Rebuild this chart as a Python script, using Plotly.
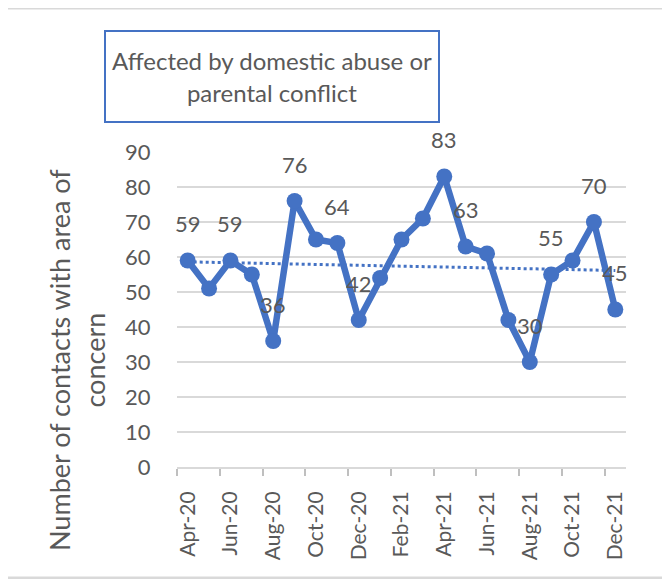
import numpy as np
import plotly.graph_objects as go

months = ["Apr-20", "May-20", "Jun-20", "Jul-20", "Aug-20", "Sep-20", "Oct-20", "Nov-20",
          "Dec-20", "Jan-21", "Feb-21", "Mar-21", "Apr-21", "May-21", "Jun-21", "Jul-21",
          "Aug-21", "Sep-21", "Oct-21", "Nov-21", "Dec-21"]
contacts = [59, 51, 59, 55, 36, 76, 65, 64, 42, 54, 65, 71, 83, 63, 61, 42, 30, 55, 59, 70, 45]
shown_labels = [59, None, 59, None, 36, 76, None, 64, 42, None, None, None, 83, 63, None,
                None, 30, 55, None, 70, 45]
y_ticks = [0, 10, 20, 30, 40, 50, 60, 70, 80, 90]

title_text = "Affected by domestic abuse or<br>parental conflict"
y_title = "Number of contacts with area of<br>concern"

BLUE = "#4472C4"
GREY_TEXT = "#595959"
FONT = "Lato, 'Liberation Sans', sans-serif"

# page body has an 8px margin, so the figure is drawn 8px right/down
OFF = 8
PL, PR, PT, PB = 177, 626, 152, 467  # plot area in screen pixels


def px_x(p):
    return (p - PL) / (PR - PL)


def px_y(p):
    return (PB - p) / (PB - PT)


x = np.arange(len(months))
slope, intercept = np.polyfit(x, np.array(contacts, dtype=float), 1)
trend = slope * x + intercept

fig = go.Figure()
fig.add_trace(go.Scatter(x=x, y=trend, mode="lines",
                         line=dict(color=BLUE, width=3, dash="dot"),
                         hoverinfo="skip", showlegend=False))
fig.add_trace(go.Scatter(x=x, y=contacts, mode="lines+markers",
                         line=dict(color=BLUE, width=6.5),
                         marker=dict(color=BLUE, size=16),
                         showlegend=False))
fig.add_trace(go.Scatter(x=x, y=contacts, xaxis="x2", mode="markers",
                         marker=dict(opacity=0), hoverinfo="skip", showlegend=False))

for i, lab in enumerate(shown_labels):
    if lab is None:
        continue
    fig.add_annotation(x=x[i], y=contacts[i], text=str(lab), showarrow=False,
                       yshift=37, font=dict(size=22, color=GREY_TEXT, family=FONT))

tick_bounds = [v - 0.5 for v in range(0, len(months) + 1, 2)]
label_pos = list(range(0, len(months), 2))

W, H = 670 - OFF, 579 - OFF
fig.update_layout(
    width=W, height=H,
    margin=dict(l=PL - OFF, r=W - (PR - OFF), t=PT - OFF, b=H - (PB - OFF)),
    paper_bgcolor="white", plot_bgcolor="white",
    font=dict(family=FONT, color=GREY_TEXT),
    xaxis=dict(range=[-0.5, len(months) - 0.5], tickvals=tick_bounds,
               showticklabels=False, ticks="outside", ticklen=7,
               tickcolor="#BFBFBF", tickwidth=1.5,
               showline=True, linecolor="#D9D9D9", linewidth=2,
               showgrid=False, zeroline=False, fixedrange=True),
    xaxis2=dict(range=[-0.5, len(months) - 0.5], overlaying="x", anchor="y", side="bottom",
                tickvals=label_pos, ticktext=[months[i] for i in label_pos],
                tickangle=-90, ticks="outside", ticklen=15, tickcolor="rgba(0,0,0,0)",
                tickfont=dict(size=21, color=GREY_TEXT, family=FONT),
                showline=False, showgrid=False, zeroline=False),
    yaxis=dict(range=[0, 90], tickvals=y_ticks, showgrid=True, gridcolor="#D9D9D9",
               gridwidth=2, zeroline=False, showline=False,
               ticks="outside", ticklen=21, tickcolor="rgba(0,0,0,0)",
               tickfont=dict(size=22, color=GREY_TEXT, family=FONT)),
    annotations=list(fig.layout.annotations) + [
        dict(xref="paper", yref="paper", x=px_x(272), y=px_y(77),
             xanchor="center", yanchor="middle", text=title_text, showarrow=False,
             font=dict(size=24, color=GREY_TEXT, family=FONT),
             bordercolor=BLUE, borderwidth=2, borderpad=2, width=328, height=85,
             bgcolor="white"),
        dict(xref="paper", yref="paper", x=px_x(77), y=px_y(360),
             xanchor="center", yanchor="middle", text=y_title, showarrow=False,
             textangle=-90, font=dict(size=27, color=GREY_TEXT, family=FONT)),
    ],
    shapes=[dict(type="rect", xref="paper", yref="paper",
                 x0=px_x(4), x1=px_x(668), y0=px_y(578), y1=px_y(8),
                 line=dict(color="#D9D9D9", width=3), layer="below")],
)

fig.write_html("out.html")
